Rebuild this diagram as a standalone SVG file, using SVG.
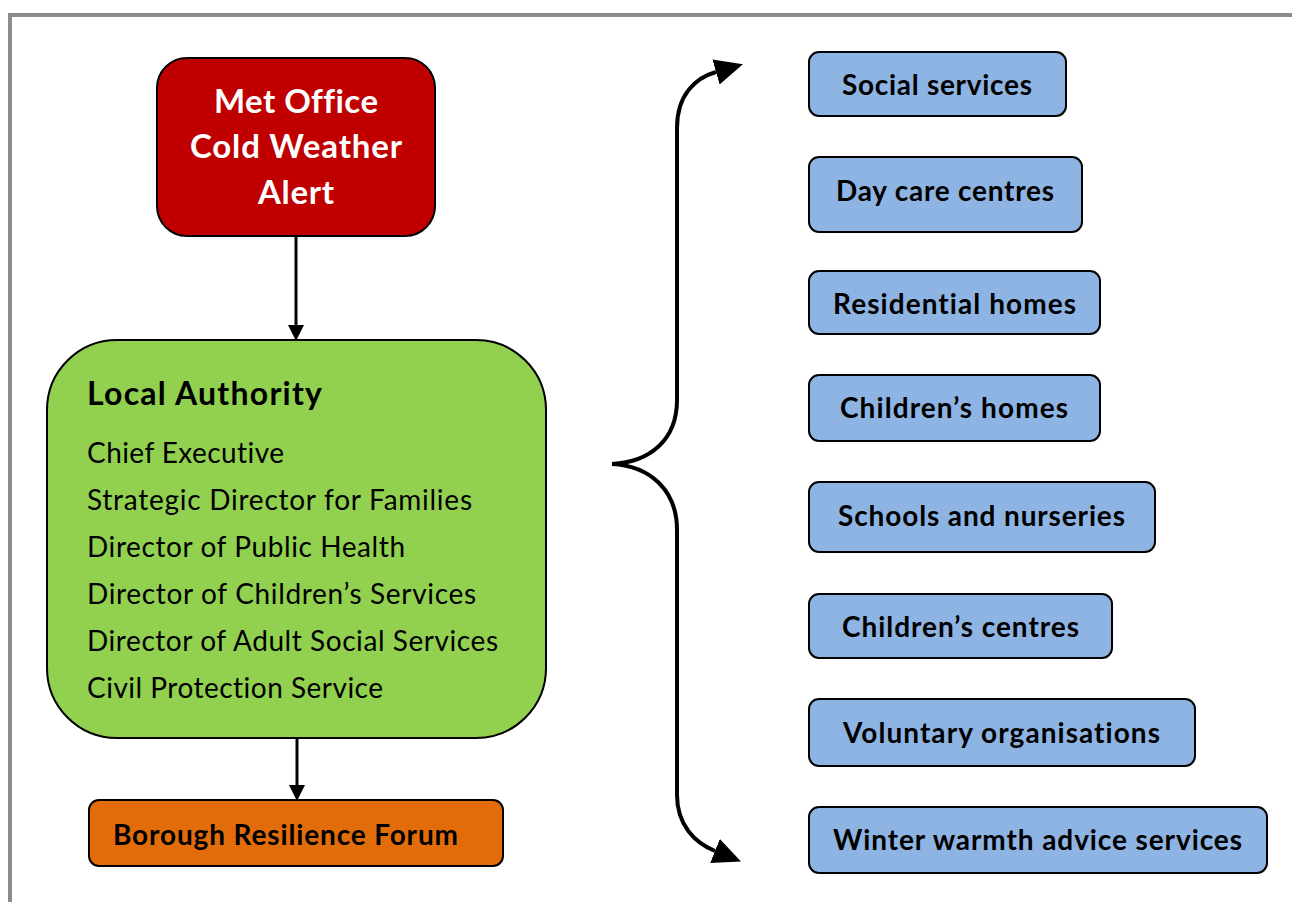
<svg xmlns="http://www.w3.org/2000/svg" width="1292" height="902" viewBox="0 0 1292 902">
  <style>
    text { font-family: Lato, "Open Sans", "Liberation Sans", sans-serif; font-variant-ligatures: none; }
    .frame { fill: none; stroke: #8c8c8c; stroke-width: 4; }
    .box { stroke: #000; stroke-width: 2; }
    .lbl { font-weight: bold; font-size: 28px; fill: #000; }
    .alert { font-weight: bold; font-size: 33px; fill: #fff; text-anchor: middle; }
    .head { font-weight: bold; font-size: 32px; fill: #000; }
    .role { font-size: 28px; fill: #000; }
    .svc { fill: #8eb4e3; }
    .link { fill: none; stroke: #000; stroke-width: 3; }
    .brace { fill: none; stroke: #000; stroke-width: 4; }
  </style>
  <defs>
    <marker id="headSmall" markerUnits="userSpaceOnUse" markerWidth="16" markerHeight="16" refX="0" refY="8" orient="auto">
      <path d="M0,0 L16,8 L0,16 Z" fill="#000"/>
    </marker>
    <marker id="headBig" markerUnits="userSpaceOnUse" markerWidth="28" markerHeight="26" refX="0" refY="13" orient="auto">
      <path d="M0,0 L28,13 L0,26 Z" fill="#000"/>
    </marker>
  </defs>

  <rect width="1292" height="902" fill="#fff"/>
  <path class="frame" d="M10,902 L10,15 L1292,15"/>

  <g id="connectors">
    <path class="link" d="M296,236 L296,325" marker-end="url(#headSmall)"/>
    <path class="link" d="M297,738 L297,785" marker-end="url(#headSmall)"/>
    <path class="brace" d="M612,464 C650,462 677,440 677,400 L677,128 C677,95 695,78 716,72" marker-end="url(#headBig)"/>
    <path class="brace" d="M612,464 C650,466 677,490 677,530 L677,795 C677,825 695,843 715,851" marker-end="url(#headBig)"/>
  </g>

  <g id="met-office">
    <rect class="box" x="157" y="58" width="278" height="178" rx="30" fill="#c00000"/>
    <text class="alert" x="296" y="113" textLength="164" lengthAdjust="spacing">Met Office</text>
    <text class="alert" x="296" y="158" textLength="212" lengthAdjust="spacing">Cold Weather</text>
    <text class="alert" x="296" y="204" textLength="76" lengthAdjust="spacing">Alert</text>
  </g>

  <g id="local-authority">
    <rect class="box" x="47" y="340" width="499" height="398" rx="70" fill="#92d050"/>
    <text class="head" x="87" y="405" textLength="235" lengthAdjust="spacing">Local Authority</text>
    <text class="role" x="87" y="463" textLength="197" lengthAdjust="spacing">Chief Executive</text>
    <text class="role" x="87" y="510" textLength="385" lengthAdjust="spacing">Strategic Director for Families</text>
    <text class="role" x="87" y="557" textLength="318" lengthAdjust="spacing">Director of Public Health</text>
    <text class="role" x="87" y="604" textLength="389" lengthAdjust="spacing">Director of Children’s Services</text>
    <text class="role" x="87" y="651" textLength="411" lengthAdjust="spacing">Director of Adult Social Services</text>
    <text class="role" x="87" y="698" textLength="296" lengthAdjust="spacing">Civil Protection Service</text>
  </g>

  <g id="resilience-forum">
    <rect class="box" x="89" y="800" width="414" height="66" rx="10" fill="#e36c0a"/>
    <text class="lbl" x="113" y="845" textLength="345" lengthAdjust="spacing">Borough Resilience Forum</text>
  </g>

  <g id="social-services">
    <rect class="box svc" x="809" y="52" width="257" height="64" rx="10"/>
    <text class="lbl" x="842" y="95" textLength="190" lengthAdjust="spacing">Social services</text>
  </g>
  <g id="day-care">
    <rect class="box svc" x="809" y="157" width="273" height="75" rx="10"/>
    <text class="lbl" x="836" y="201" textLength="218" lengthAdjust="spacing">Day care centres</text>
  </g>
  <g id="residential-homes">
    <rect class="box svc" x="809" y="271" width="291" height="63" rx="10"/>
    <text class="lbl" x="833" y="314" textLength="243" lengthAdjust="spacing">Residential homes</text>
  </g>
  <g id="childrens-homes">
    <rect class="box svc" x="809" y="375" width="291" height="66" rx="10"/>
    <text class="lbl" x="840" y="418" textLength="228" lengthAdjust="spacing">Children’s homes</text>
  </g>
  <g id="schools">
    <rect class="box svc" x="809" y="482" width="346" height="70" rx="10"/>
    <text class="lbl" x="838" y="526" textLength="287" lengthAdjust="spacing">Schools and nurseries</text>
  </g>
  <g id="childrens-centres">
    <rect class="box svc" x="809" y="594" width="303" height="64" rx="10"/>
    <text class="lbl" x="842" y="637" textLength="237" lengthAdjust="spacing">Children’s centres</text>
  </g>
  <g id="voluntary">
    <rect class="box svc" x="809" y="699" width="386" height="67" rx="10"/>
    <text class="lbl" x="843" y="743" textLength="317" lengthAdjust="spacing">Voluntary organisations</text>
  </g>
  <g id="winter-warmth">
    <rect class="box svc" x="809" y="807" width="458" height="66" rx="10"/>
    <text class="lbl" x="833" y="850" textLength="409" lengthAdjust="spacing">Winter warmth advice services</text>
  </g>
</svg>
